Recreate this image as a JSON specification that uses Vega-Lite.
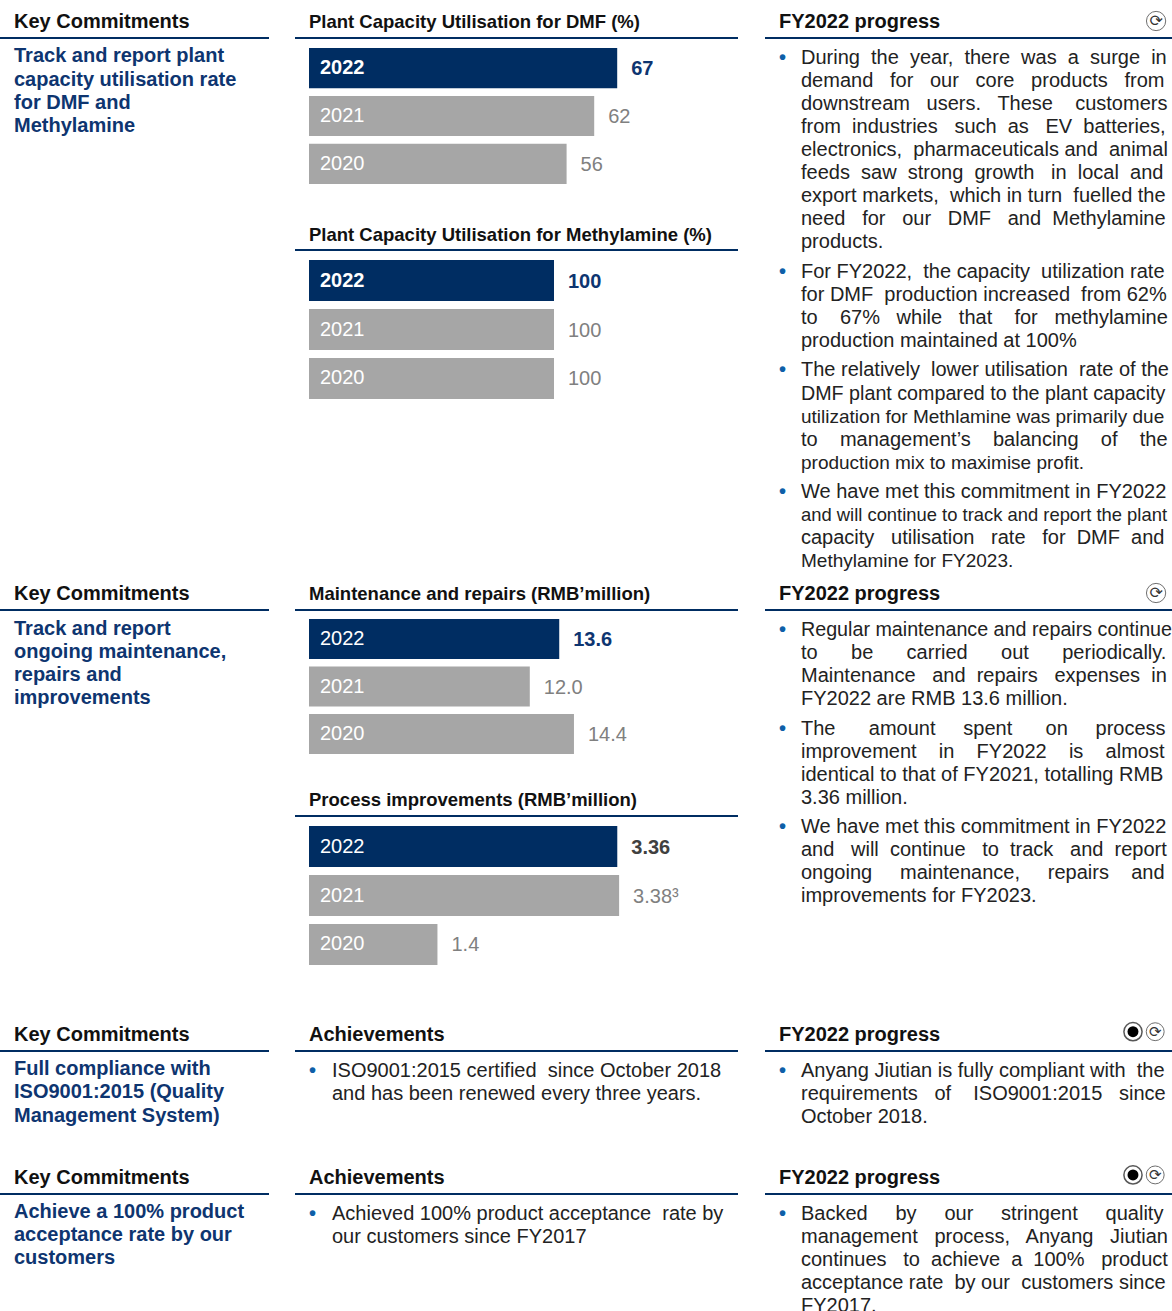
{"$schema":"https://vega.github.io/schema/vega-lite/v6.json","padding":{"left":-1,"top":0,"right":0,"bottom":0},"spacing":0,"background":"white",
"config":{"font":"Liberation Sans","view":{"stroke":null},"text":{"font":"Liberation Sans","align":"left","baseline":"middle"},
"style":{"head":{"fontWeight":"bold","fontSize":20,"color":"#111111","dy":1},"heads":{"fontWeight":"bold","fontSize":18.5,"color":"#111111","dy":1},"commit":{"fontWeight":"bold","fontSize":20,"color":"#0E3570","dy":1},"body":{"fontSize":20,"color":"#222222","dy":1},"bodyw":{"fontSize":19.7,"color":"#222222","dy":1},"bodyt":{"fontSize":19,"color":"#222222","dy":1},"bodyn":{"fontSize":18.4,"color":"#222222","dy":1},"bullet":{"fontSize":20,"color":"#0E5FA8","fontWeight":"bold","dy":1},"ruleline":{"color":"#002D62","strokeWidth":2},"yr":{"color":"#ffffff","dx":11,"fontSize":20},"yrb":{"color":"#ffffff","dx":11,"fontSize":20,"fontWeight":"bold"},"val":{"color":"#808080","dx":14,"dy":1,"fontSize":20},"valn":{"color":"#0E3570","dx":14,"dy":1,"fontSize":20,"fontWeight":"bold"},"vald":{"color":"#404040","dx":14,"dy":1,"fontSize":20,"fontWeight":"bold"}}},
"vconcat":[
{"spacing":24,"hconcat":[
 {"width":269,"height":572,"encoding":{"y":{"field":"line","type":"quantitative","axis":null,"scale":{"domain":[-0.913,23.957],"reverse":true,"nice":false,"zero":false}}},
  "layer":[{"data":{"values":[{"line":0.739}]},"mark":{"type":"rule","style":"ruleline"},"encoding":{}},
  {"data":{"values":[{"line":0,"indent":0,"text":"Key Commitments"}]},"mark":{"type":"text","style":"head"},"encoding":{"x":{"field":"indent","type":"quantitative","axis":null,"scale":{"domain":[0,1],"range":[14,36]}},"text":{"field":"text"}}},
  {"data":{"values":[{"line":1.478,"indent":0,"text":"Track and report plant"},{"line":2.52,"indent":0,"text":"capacity utilisation rate"},{"line":3.52,"indent":0,"text":"for DMF and"},{"line":4.52,"indent":0,"text":"Methylamine"}]},"mark":{"type":"text","style":"commit"},"encoding":{"x":{"field":"indent","type":"quantitative","axis":null,"scale":{"domain":[0,1],"range":[14,36]}},"text":{"field":"text"}}}]},
 {"spacing":25,"hconcat":[
  {"spacing":0,"vconcat":[
   {"width":443,"height":48,"encoding":{"y":{"field":"line","type":"quantitative","axis":null,"scale":{"domain":[-0.913,1.174],"reverse":true,"nice":false,"zero":false}}},"layer":[{"data":{"values":[{"line":0.739}]},"mark":{"type":"rule","style":"ruleline"},"encoding":{}},{"data":{"values":[{"line":0,"indent":0,"text":"Plant Capacity Utilisation for DMF (%)"}]},"mark":{"type":"text","style":"heads"},"encoding":{"x":{"field":"indent","type":"quantitative","axis":null,"scale":{"domain":[0,1],"range":[14,36]}},"text":{"field":"text"}}}]},
   {"width":443,"height":136,"data":{"values":[{"year":"2022","value":67,"label":"67"},{"year":"2021","value":62,"label":"62"},{"year":"2020","value":56,"label":"56"}]},"encoding":{"y":{"field":"year","type":"nominal","axis":null,"scale":{"type":"band","domain":["2022","2021","2020"],"paddingInner":0.16,"paddingOuter":0}},"x":{"field":"value","type":"quantitative","axis":null,"scale":{"domain":[0,100],"range":[14,474],"nice":false}}},
    "layer":[{"mark":{"type":"bar"},"encoding":{"color":{"field":"year","type":"nominal","legend":null,"scale":{"domain":["2022","2021","2020"],"range":["#002D62","#A6A6A6","#A6A6A6"]}}}},
    {"transform":[{"filter":"datum.year=='2022'"}],"mark":{"type":"text","style":"yrb"},"encoding":{"x":{"datum":0,"type":"quantitative"},"text":{"field":"year"}}},
    {"transform":[{"filter":"datum.year!='2022'"}],"mark":{"type":"text","style":"yr"},"encoding":{"x":{"datum":0,"type":"quantitative"},"text":{"field":"year"}}},
    {"transform":[{"filter":"datum.year=='2022'"}],"mark":{"type":"text","style":"valn"},"encoding":{"text":{"field":"label"}}},
    {"transform":[{"filter":"datum.year!='2022'"}],"mark":{"type":"text","style":"val"},"encoding":{"text":{"field":"label"}}}]},
   {"width":443,"height":76,"encoding":{"y":{"field":"line","type":"quantitative","axis":null,"scale":{"domain":[-2.174,1.13],"reverse":true,"nice":false,"zero":false}}},"layer":[{"data":{"values":[{"line":0.696}]},"mark":{"type":"rule","style":"ruleline"},"encoding":{}},{"data":{"values":[{"line":0,"indent":0,"text":"Plant Capacity Utilisation for Methylamine (%)"}]},"mark":{"type":"text","style":"heads"},"encoding":{"x":{"field":"indent","type":"quantitative","axis":null,"scale":{"domain":[0,1],"range":[14,36]}},"text":{"field":"text"}}}]},
   {"width":443,"height":139,"data":{"values":[{"year":"2022","value":100,"label":"100"},{"year":"2021","value":100,"label":"100"},{"year":"2020","value":100,"label":"100"}]},"encoding":{"y":{"field":"year","type":"nominal","axis":null,"scale":{"type":"band","domain":["2022","2021","2020"],"paddingInner":0.16,"paddingOuter":0}},"x":{"field":"value","type":"quantitative","axis":null,"scale":{"domain":[0,100],"range":[14,259],"nice":false}}},
    "layer":[{"mark":{"type":"bar"},"encoding":{"color":{"field":"year","type":"nominal","legend":null,"scale":{"domain":["2022","2021","2020"],"range":["#002D62","#A6A6A6","#A6A6A6"]}}}},
    {"transform":[{"filter":"datum.year=='2022'"}],"mark":{"type":"text","style":"yrb"},"encoding":{"x":{"datum":0,"type":"quantitative"},"text":{"field":"year"}}},
    {"transform":[{"filter":"datum.year!='2022'"}],"mark":{"type":"text","style":"yr"},"encoding":{"x":{"datum":0,"type":"quantitative"},"text":{"field":"year"}}},
    {"transform":[{"filter":"datum.year=='2022'"}],"mark":{"type":"text","style":"valn"},"encoding":{"text":{"field":"label"}}},
    {"transform":[{"filter":"datum.year!='2022'"}],"mark":{"type":"text","style":"val"},"encoding":{"text":{"field":"label"}}}]}
  ]},
  {"width":407,"height":572,"encoding":{"y":{"field":"line","type":"quantitative","axis":null,"scale":{"domain":[-0.913,23.957],"reverse":true,"nice":false,"zero":false}}},
   "layer":[{"data":{"values":[{"line":0.739}]},"mark":{"type":"rule","style":"ruleline"},"encoding":{}},
   {"encoding":{"x":{"field":"indent","type":"quantitative","axis":null,"scale":{"domain":[0,1],"range":[14,36]}}},"layer":[
    {"data":{"values":[{"line":0,"indent":0,"text":"FY2022 progress"}]},"mark":{"type":"text","style":"head"},"encoding":{"text":{"field":"text"}}},
    {"data":{"values":[{"line":1.565,"indent":0,"text":"•"},{"line":10.87,"indent":0,"text":"•"},{"line":15.13,"indent":0,"text":"•"},{"line":20.43,"indent":0,"text":"•"}]},"mark":{"type":"text","style":"bullet"},"encoding":{"text":{"field":"text"}}},
    {"data":{"values":[
     {"line":1.565,"indent":1,"text":"During\u00a0 the\u00a0 year,\u00a0 there\u00a0 was\u00a0 a\u00a0 surge\u00a0 in"},{"line":2.565,"indent":1,"text":"demand\u00a0\u00a0 for\u00a0\u00a0 our\u00a0\u00a0 core\u00a0\u00a0 products\u00a0\u00a0 from"},{"line":3.565,"indent":1,"text":"downstream\u00a0\u00a0 users.\u00a0\u00a0 These\u00a0\u00a0\u00a0 customers"},{"line":4.565,"indent":1,"text":"from\u00a0 industries\u00a0\u00a0 such\u00a0 as\u00a0\u00a0 EV\u00a0 batteries,"},{"line":5.565,"indent":1,"text":"electronics,\u00a0 pharmaceuticals and\u00a0 animal"},{"line":6.565,"indent":1,"text":"feeds\u00a0 saw\u00a0 strong\u00a0 growth\u00a0\u00a0 in\u00a0 local\u00a0 and"},{"line":7.565,"indent":1,"text":"export markets,\u00a0 which in turn\u00a0 fuelled the"},{"line":8.565,"indent":1,"text":"need\u00a0\u00a0 for\u00a0\u00a0 our\u00a0\u00a0 DMF\u00a0\u00a0 and\u00a0 Methylamine"},{"line":9.565,"indent":1,"text":"products."},
     {"line":10.87,"indent":1,"text":"For FY2022,\u00a0 the capacity\u00a0 utilization rate"},{"line":11.87,"indent":1,"text":"for DMF\u00a0 production increased\u00a0 from 62%"},{"line":12.87,"indent":1,"text":"to\u00a0\u00a0\u00a0 67%\u00a0\u00a0 while\u00a0\u00a0 that\u00a0\u00a0\u00a0 for\u00a0\u00a0 methylamine"},{"line":13.87,"indent":1,"text":"production maintained at 100%"},
     {"line":15.13,"indent":1,"text":"The relatively\u00a0 lower utilisation\u00a0 rate of the"}]},"mark":{"type":"text","style":"body"},"encoding":{"text":{"field":"text"}}},
    {"data":{"values":[{"line":18.17,"indent":1,"text":"to\u00a0\u00a0\u00a0 management’s\u00a0\u00a0\u00a0 balancing\u00a0\u00a0\u00a0 of\u00a0\u00a0\u00a0 the"},{"line":20.43,"indent":1,"text":"We have met this commitment in FY2022"},{"line":22.43,"indent":1,"text":"capacity\u00a0\u00a0 utilisation\u00a0\u00a0 rate\u00a0\u00a0 for\u00a0 DMF\u00a0 and"}]},"mark":{"type":"text","style":"body"},"encoding":{"text":{"field":"text"}}},
    {"data":{"values":[{"line":16.17,"indent":1,"text":"DMF plant compared to the plant capacity"}]},"mark":{"type":"text","style":"bodyw"},"encoding":{"text":{"field":"text"}}},
    {"data":{"values":[{"line":17.17,"indent":1,"text":"utilization for Methlamine was primarily due"},{"line":19.17,"indent":1,"text":"production mix to maximise profit."},{"line":23.43,"indent":1,"text":"Methylamine for FY2023."}]},"mark":{"type":"text","style":"bodyt"},"encoding":{"text":{"field":"text"}}},
    {"data":{"values":[{"line":21.43,"indent":1,"text":"and will continue to track and report the plant"}]},"mark":{"type":"text","style":"bodyn"},"encoding":{"text":{"field":"text"}}},
    {"data":{"values":[{"line":0,"indent":17.14}]},"mark":{"type":"point","shape":"circle","filled":false,"size":370,"color":"#333333","strokeWidth":1}},
    {"data":{"values":[{"line":0,"indent":17.14,"text":"⟳"}]},"mark":{"type":"text","font":"DejaVu Sans","fontSize":16,"align":"center","color":"#333333"},"encoding":{"text":{"field":"text"}}}
   ]}]}
 ]}
]},
{"spacing":24,"hconcat":[
 {"width":269,"height":441,"encoding":{"y":{"field":"line","type":"quantitative","axis":null,"scale":{"domain":[-0.913,18.261],"reverse":true,"nice":false,"zero":false}}},
  "layer":[{"data":{"values":[{"line":0.739}]},"mark":{"type":"rule","style":"ruleline"},"encoding":{}},
  {"data":{"values":[{"line":0,"indent":0,"text":"Key Commitments"}]},"mark":{"type":"text","style":"head"},"encoding":{"x":{"field":"indent","type":"quantitative","axis":null,"scale":{"domain":[0,1],"range":[14,36]}},"text":{"field":"text"}}},
  {"data":{"values":[{"line":1.52,"indent":0,"text":"Track and report"},{"line":2.52,"indent":0,"text":"ongoing maintenance,"},{"line":3.52,"indent":0,"text":"repairs and"},{"line":4.52,"indent":0,"text":"improvements"}]},"mark":{"type":"text","style":"commit"},"encoding":{"x":{"field":"indent","type":"quantitative","axis":null,"scale":{"domain":[0,1],"range":[14,36]}},"text":{"field":"text"}}}]},
 {"spacing":25,"hconcat":[
  {"spacing":0,"vconcat":[
   {"width":443,"height":47,"encoding":{"y":{"field":"line","type":"quantitative","axis":null,"scale":{"domain":[-0.913,1.13],"reverse":true,"nice":false,"zero":false}}},"layer":[{"data":{"values":[{"line":0.739}]},"mark":{"type":"rule","style":"ruleline"},"encoding":{}},{"data":{"values":[{"line":0,"indent":0,"text":"Maintenance and repairs (RMB’million)"}]},"mark":{"type":"text","style":"heads"},"encoding":{"x":{"field":"indent","type":"quantitative","axis":null,"scale":{"domain":[0,1],"range":[14,36]}},"text":{"field":"text"}}}]},
   {"width":443,"height":135,"data":{"values":[{"year":"2022","value":13.6,"label":"13.6"},{"year":"2021","value":12,"label":"12.0"},{"year":"2020","value":14.4,"label":"14.4"}]},"encoding":{"y":{"field":"year","type":"nominal","axis":null,"scale":{"type":"band","domain":["2022","2021","2020"],"paddingInner":0.16,"paddingOuter":0}},"x":{"field":"value","type":"quantitative","axis":null,"scale":{"domain":[0,20],"range":[14,382],"nice":false}}},
    "layer":[{"mark":{"type":"bar"},"encoding":{"color":{"field":"year","type":"nominal","legend":null,"scale":{"domain":["2022","2021","2020"],"range":["#002D62","#A6A6A6","#A6A6A6"]}}}},
    {"mark":{"type":"text","style":"yr"},"encoding":{"x":{"datum":0,"type":"quantitative"},"text":{"field":"year"}}},
    {"transform":[{"filter":"datum.year=='2022'"}],"mark":{"type":"text","style":"valn"},"encoding":{"text":{"field":"label"}}},
    {"transform":[{"filter":"datum.year!='2022'"}],"mark":{"type":"text","style":"val"},"encoding":{"text":{"field":"label"}}}]},
   {"width":443,"height":72,"encoding":{"y":{"field":"line","type":"quantitative","axis":null,"scale":{"domain":[-1.957,1.174],"reverse":true,"nice":false,"zero":false}}},"layer":[{"data":{"values":[{"line":0.739}]},"mark":{"type":"rule","style":"ruleline"},"encoding":{}},{"data":{"values":[{"line":0,"indent":0,"text":"Process improvements (RMB’million)"}]},"mark":{"type":"text","style":"heads"},"encoding":{"x":{"field":"indent","type":"quantitative","axis":null,"scale":{"domain":[0,1],"range":[14,36]}},"text":{"field":"text"}}}]},
   {"width":443,"height":139,"data":{"values":[{"year":"2022","value":3.36,"label":"3.36"},{"year":"2021","value":3.38,"label":"3.38³"},{"year":"2020","value":1.4,"label":"1.4"}]},"encoding":{"y":{"field":"year","type":"nominal","axis":null,"scale":{"type":"band","domain":["2022","2021","2020"],"paddingInner":0.16,"paddingOuter":0}},"x":{"field":"value","type":"quantitative","axis":null,"scale":{"domain":[0,4],"range":[14,381],"nice":false}}},
    "layer":[{"mark":{"type":"bar"},"encoding":{"color":{"field":"year","type":"nominal","legend":null,"scale":{"domain":["2022","2021","2020"],"range":["#002D62","#A6A6A6","#A6A6A6"]}}}},
    {"mark":{"type":"text","style":"yr"},"encoding":{"x":{"datum":0,"type":"quantitative"},"text":{"field":"year"}}},
    {"transform":[{"filter":"datum.year=='2022'"}],"mark":{"type":"text","style":"vald"},"encoding":{"text":{"field":"label"}}},
    {"transform":[{"filter":"datum.year!='2022'"}],"mark":{"type":"text","style":"val"},"encoding":{"text":{"field":"label"}}}]}
  ]},
  {"width":407,"height":441,"encoding":{"y":{"field":"line","type":"quantitative","axis":null,"scale":{"domain":[-0.913,18.261],"reverse":true,"nice":false,"zero":false}}},
   "layer":[{"data":{"values":[{"line":0.739}]},"mark":{"type":"rule","style":"ruleline"},"encoding":{}},
   {"encoding":{"x":{"field":"indent","type":"quantitative","axis":null,"scale":{"domain":[0,1],"range":[14,36]}}},"layer":[
    {"data":{"values":[{"line":0,"indent":0,"text":"FY2022 progress"}]},"mark":{"type":"text","style":"head"},"encoding":{"text":{"field":"text"}}},
    {"data":{"values":[{"line":1.565,"indent":0,"text":"•"},{"line":5.87,"indent":0,"text":"•"},{"line":10.13,"indent":0,"text":"•"}]},"mark":{"type":"text","style":"bullet"},"encoding":{"text":{"field":"text"}}},
    {"data":{"values":[{"line":1.565,"indent":1,"text":"Regular maintenance and repairs continue"}]},"mark":{"type":"text","style":"bodyw"},"encoding":{"text":{"field":"text"}}},
    {"data":{"values":[
     {"line":2.565,"indent":1,"text":"to\u00a0\u00a0\u00a0\u00a0\u00a0 be\u00a0\u00a0\u00a0\u00a0\u00a0 carried\u00a0\u00a0\u00a0\u00a0\u00a0 out\u00a0\u00a0\u00a0\u00a0\u00a0 periodically."},{"line":3.565,"indent":1,"text":"Maintenance\u00a0\u00a0 and\u00a0 repairs\u00a0\u00a0 expenses\u00a0 in"},{"line":4.565,"indent":1,"text":"FY2022 are RMB 13.6 million."},
     {"line":5.87,"indent":1,"text":"The\u00a0\u00a0\u00a0\u00a0\u00a0 amount\u00a0\u00a0\u00a0\u00a0 spent\u00a0\u00a0\u00a0\u00a0\u00a0 on\u00a0\u00a0\u00a0\u00a0 process"},{"line":6.87,"indent":1,"text":"improvement\u00a0\u00a0\u00a0 in\u00a0\u00a0\u00a0 FY2022\u00a0\u00a0\u00a0 is\u00a0\u00a0\u00a0 almost"},{"line":7.87,"indent":1,"text":"identical to that of FY2021, totalling RMB"},{"line":8.87,"indent":1,"text":"3.36 million."},
     {"line":10.13,"indent":1,"text":"We have met this commitment in FY2022"},{"line":11.13,"indent":1,"text":"and\u00a0\u00a0 will\u00a0 continue\u00a0\u00a0 to\u00a0 track\u00a0\u00a0 and\u00a0 report"},{"line":12.13,"indent":1,"text":"ongoing\u00a0\u00a0\u00a0\u00a0 maintenance,\u00a0\u00a0\u00a0\u00a0 repairs\u00a0\u00a0\u00a0 and"},{"line":13.13,"indent":1,"text":"improvements for FY2023."}]},"mark":{"type":"text","style":"body"},"encoding":{"text":{"field":"text"}}},
    {"data":{"values":[{"line":0,"indent":17.14}]},"mark":{"type":"point","shape":"circle","filled":false,"size":370,"color":"#333333","strokeWidth":1}},
    {"data":{"values":[{"line":0,"indent":17.14,"text":"⟳"}]},"mark":{"type":"text","font":"DejaVu Sans","fontSize":16,"align":"center","color":"#333333"},"encoding":{"text":{"field":"text"}}}
   ]}]}
 ]}
]},
{"spacing":24,"hconcat":[
 {"width":269,"height":143,"encoding":{"y":{"field":"line","type":"quantitative","axis":null,"scale":{"domain":[-0.913,5.304],"reverse":true,"nice":false,"zero":false}}},
  "layer":[{"data":{"values":[{"line":0.739}]},"mark":{"type":"rule","style":"ruleline"},"encoding":{}},
  {"data":{"values":[{"line":0,"indent":0,"text":"Key Commitments"}]},"mark":{"type":"text","style":"head"},"encoding":{"x":{"field":"indent","type":"quantitative","axis":null,"scale":{"domain":[0,1],"range":[14,36]}},"text":{"field":"text"}}},
  {"data":{"values":[{"line":1.478,"indent":0,"text":"Full compliance with"},{"line":2.478,"indent":0,"text":"ISO9001:2015 (Quality"},{"line":3.52,"indent":0,"text":"Management System)"}]},"mark":{"type":"text","style":"commit"},"encoding":{"x":{"field":"indent","type":"quantitative","axis":null,"scale":{"domain":[0,1],"range":[14,36]}},"text":{"field":"text"}}}]},
 {"spacing":25,"hconcat":[
  {"width":443,"height":143,"encoding":{"y":{"field":"line","type":"quantitative","axis":null,"scale":{"domain":[-0.913,5.304],"reverse":true,"nice":false,"zero":false}}},
   "layer":[{"data":{"values":[{"line":0.739}]},"mark":{"type":"rule","style":"ruleline"},"encoding":{}},
   {"encoding":{"x":{"field":"indent","type":"quantitative","axis":null,"scale":{"domain":[0,1],"range":[14,37]}}},"layer":[
    {"data":{"values":[{"line":0,"indent":0,"text":"Achievements"}]},"mark":{"type":"text","style":"head"},"encoding":{"text":{"field":"text"}}},
    {"data":{"values":[{"line":1.565,"indent":0,"text":"•"}]},"mark":{"type":"text","style":"bullet"},"encoding":{"text":{"field":"text"}}},
    {"data":{"values":[{"line":1.565,"indent":1,"text":"ISO9001:2015 certified\u00a0 since October 2018"},{"line":2.565,"indent":1,"text":"and has been renewed every three years."}]},"mark":{"type":"text","style":"body"},"encoding":{"text":{"field":"text"}}}
   ]}]},
  {"width":407,"height":143,"encoding":{"y":{"field":"line","type":"quantitative","axis":null,"scale":{"domain":[-0.913,5.304],"reverse":true,"nice":false,"zero":false}}},
   "layer":[{"data":{"values":[{"line":0.739}]},"mark":{"type":"rule","style":"ruleline"},"encoding":{}},
   {"encoding":{"x":{"field":"indent","type":"quantitative","axis":null,"scale":{"domain":[0,1],"range":[14,36]}}},"layer":[
    {"data":{"values":[{"line":0,"indent":0,"text":"FY2022 progress"}]},"mark":{"type":"text","style":"head"},"encoding":{"text":{"field":"text"}}},
    {"data":{"values":[{"line":1.565,"indent":0,"text":"•"}]},"mark":{"type":"text","style":"bullet"},"encoding":{"text":{"field":"text"}}},
    {"data":{"values":[{"line":1.565,"indent":1,"text":"Anyang Jiutian is fully compliant with\u00a0 the"},{"line":2.565,"indent":1,"text":"requirements\u00a0\u00a0 of\u00a0\u00a0\u00a0 ISO9001:2015\u00a0\u00a0 since"},{"line":3.565,"indent":1,"text":"October 2018."}]},"mark":{"type":"text","style":"body"},"encoding":{"text":{"field":"text"}}},
    {"data":{"values":[{"line":-0.1,"indent":16.09}]},"mark":{"type":"point","shape":"circle","filled":false,"size":330,"color":"#111111","strokeWidth":1.5}},
    {"data":{"values":[{"line":-0.1,"indent":17.1}]},"mark":{"type":"point","shape":"circle","filled":false,"size":320,"color":"#333333","strokeWidth":1}},
    {"data":{"values":[{"line":-0.1,"indent":16.09}]},"mark":{"type":"point","shape":"circle","filled":true,"opacity":1,"size":120,"color":"#000000"}},
    {"data":{"values":[{"line":-0.1,"indent":17.1,"text":"⟳"}]},"mark":{"type":"text","font":"DejaVu Sans","fontSize":15,"align":"center","color":"#333333"},"encoding":{"text":{"field":"text"}}}
   ]}]}
 ]}
]},
{"spacing":24,"hconcat":[
 {"width":269,"height":155,"encoding":{"y":{"field":"line","type":"quantitative","axis":null,"scale":{"domain":[-0.913,5.826],"reverse":true,"nice":false,"zero":false}}},
  "layer":[{"data":{"values":[{"line":0.739}]},"mark":{"type":"rule","style":"ruleline"},"encoding":{}},
  {"data":{"values":[{"line":0,"indent":0,"text":"Key Commitments"}]},"mark":{"type":"text","style":"head"},"encoding":{"x":{"field":"indent","type":"quantitative","axis":null,"scale":{"domain":[0,1],"range":[14,36]}},"text":{"field":"text"}}},
  {"data":{"values":[{"line":1.478,"indent":0,"text":"Achieve a 100% product"},{"line":2.478,"indent":0,"text":"acceptance rate by our"},{"line":3.478,"indent":0,"text":"customers"}]},"mark":{"type":"text","style":"commit"},"encoding":{"x":{"field":"indent","type":"quantitative","axis":null,"scale":{"domain":[0,1],"range":[14,36]}},"text":{"field":"text"}}}]},
 {"spacing":25,"hconcat":[
  {"width":443,"height":155,"encoding":{"y":{"field":"line","type":"quantitative","axis":null,"scale":{"domain":[-0.913,5.826],"reverse":true,"nice":false,"zero":false}}},
   "layer":[{"data":{"values":[{"line":0.739}]},"mark":{"type":"rule","style":"ruleline"},"encoding":{}},
   {"encoding":{"x":{"field":"indent","type":"quantitative","axis":null,"scale":{"domain":[0,1],"range":[14,37]}}},"layer":[
    {"data":{"values":[{"line":0,"indent":0,"text":"Achievements"}]},"mark":{"type":"text","style":"head"},"encoding":{"text":{"field":"text"}}},
    {"data":{"values":[{"line":1.565,"indent":0,"text":"•"}]},"mark":{"type":"text","style":"bullet"},"encoding":{"text":{"field":"text"}}},
    {"data":{"values":[{"line":1.565,"indent":1,"text":"Achieved 100% product acceptance\u00a0 rate by"},{"line":2.565,"indent":1,"text":"our customers since FY2017"}]},"mark":{"type":"text","style":"body"},"encoding":{"text":{"field":"text"}}}
   ]}]},
  {"width":407,"height":155,"encoding":{"y":{"field":"line","type":"quantitative","axis":null,"scale":{"domain":[-0.913,5.826],"reverse":true,"nice":false,"zero":false}}},
   "layer":[{"data":{"values":[{"line":0.739}]},"mark":{"type":"rule","style":"ruleline"},"encoding":{}},
   {"encoding":{"x":{"field":"indent","type":"quantitative","axis":null,"scale":{"domain":[0,1],"range":[14,36]}}},"layer":[
    {"data":{"values":[{"line":0,"indent":0,"text":"FY2022 progress"}]},"mark":{"type":"text","style":"head"},"encoding":{"text":{"field":"text"}}},
    {"data":{"values":[{"line":1.565,"indent":0,"text":"•"}]},"mark":{"type":"text","style":"bullet"},"encoding":{"text":{"field":"text"}}},
    {"data":{"values":[{"line":1.565,"indent":1,"text":"Backed\u00a0\u00a0\u00a0\u00a0 by\u00a0\u00a0\u00a0\u00a0 our\u00a0\u00a0\u00a0\u00a0 stringent\u00a0\u00a0\u00a0\u00a0 quality"},{"line":2.565,"indent":1,"text":"management\u00a0\u00a0 process,\u00a0\u00a0 Anyang\u00a0\u00a0 Jiutian"},{"line":3.565,"indent":1,"text":"continues\u00a0\u00a0 to\u00a0 achieve\u00a0 a\u00a0 100%\u00a0\u00a0 product"},{"line":4.565,"indent":1,"text":"acceptance rate\u00a0 by our\u00a0 customers since"},{"line":5.565,"indent":1,"text":"FY2017."}]},"mark":{"type":"text","style":"body"},"encoding":{"text":{"field":"text"}}},
    {"data":{"values":[{"line":-0.09,"indent":16.09}]},"mark":{"type":"point","shape":"circle","filled":false,"size":330,"color":"#111111","strokeWidth":1.5}},
    {"data":{"values":[{"line":-0.09,"indent":17.1}]},"mark":{"type":"point","shape":"circle","filled":false,"size":320,"color":"#333333","strokeWidth":1}},
    {"data":{"values":[{"line":-0.09,"indent":16.09}]},"mark":{"type":"point","shape":"circle","filled":true,"opacity":1,"size":120,"color":"#000000"}},
    {"data":{"values":[{"line":-0.09,"indent":17.1,"text":"⟳"}]},"mark":{"type":"text","font":"DejaVu Sans","fontSize":15,"align":"center","color":"#333333"},"encoding":{"text":{"field":"text"}}}
   ]}]}
 ]}
]}
]}
